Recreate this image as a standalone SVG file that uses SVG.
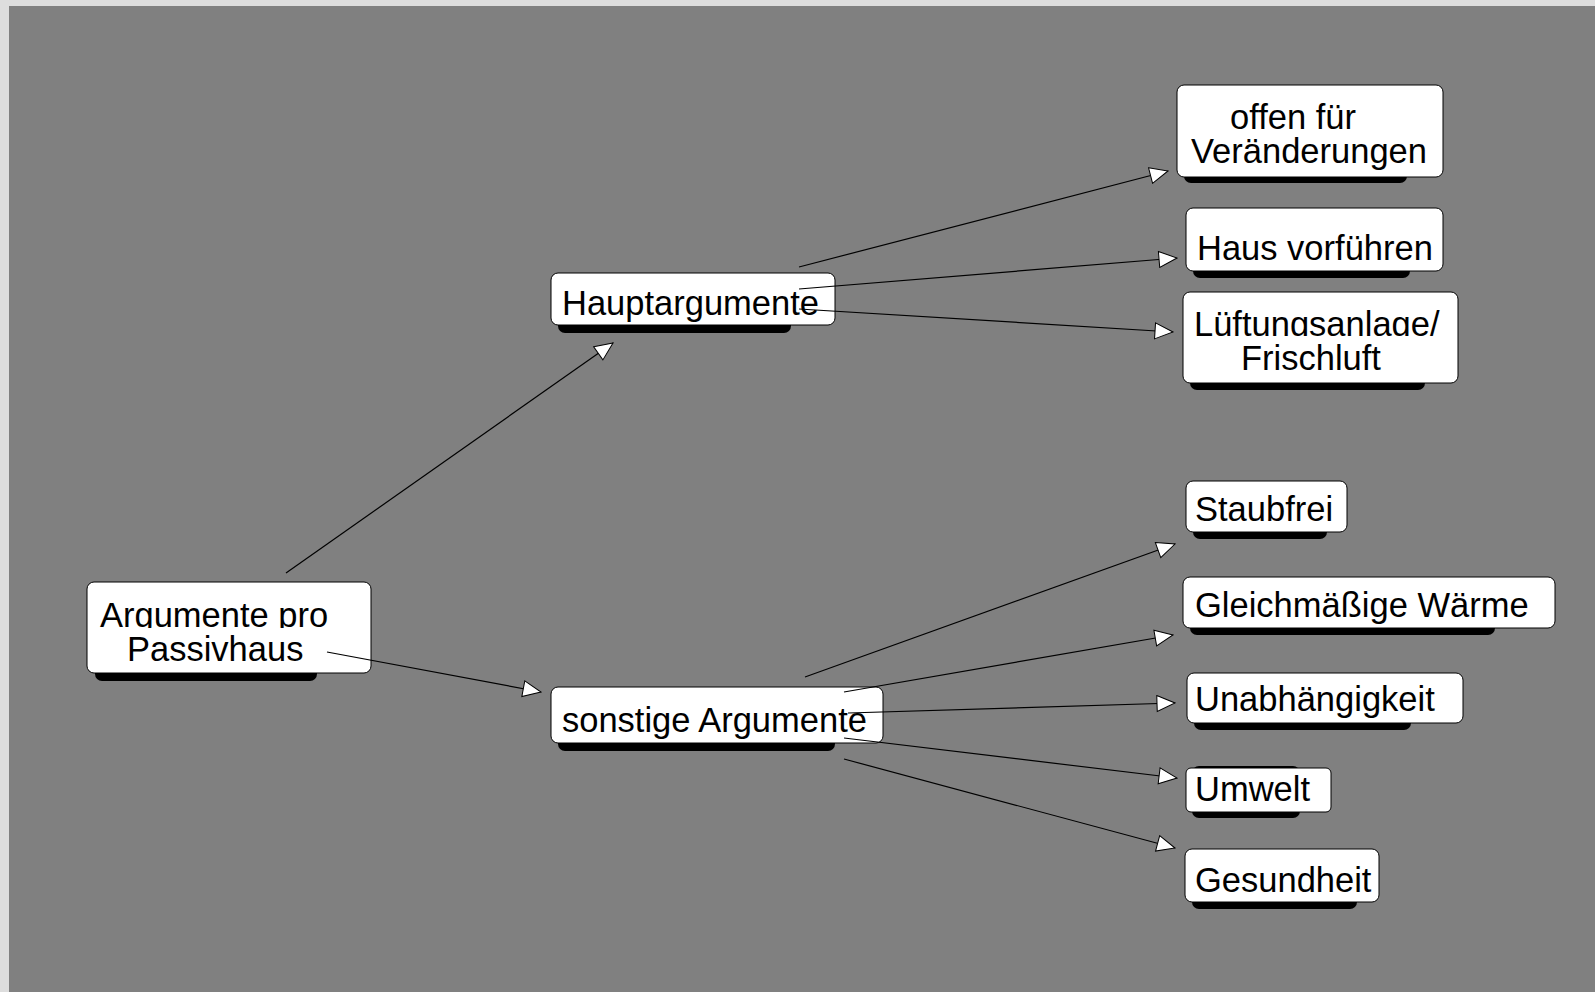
<svg xmlns="http://www.w3.org/2000/svg" width="1595" height="992" viewBox="0 0 1595 992">
<style>
.box{fill:#ffffff;stroke:#000000;stroke-width:1}
.sh{fill:#000000}
.t{font-family:"Liberation Sans",Arial,sans-serif;font-size:34.5px;fill:#000000}
.c{stroke:#000000;stroke-width:1.2;fill:none;marker-end:url(#ah)}
</style>
<defs>
<marker id="ah" markerUnits="userSpaceOnUse" markerWidth="20" markerHeight="18" refX="18" refY="8" orient="auto" viewBox="-1 -1 20 18">
<path d="M0,0 L18,8 L0,16 Z" fill="#ffffff" stroke="#000000" stroke-width="1"/>
</marker>
<clipPath id="clipA"><rect x="87" y="582" width="284" height="46"/></clipPath>
<clipPath id="clipL"><rect x="1183" y="292" width="275" height="44"/></clipPath>
</defs>
<rect x="0" y="0" width="1595" height="992" fill="#dddddd"/>
<rect x="9" y="6" width="1586" height="986" fill="#808080"/>

<g id="n-root">
<rect class="sh" x="95" y="590" width="222" height="91" rx="7"/>
<rect class="box" x="87" y="582" width="284" height="91" rx="7"/>
<text class="t" x="100" y="627" clip-path="url(#clipA)">Argumente pro</text>
<text class="t" x="127" y="661">Passivhaus</text>
</g>
<g id="n-haupt">
<rect class="sh" x="558" y="281" width="233" height="52" rx="7"/>
<rect class="box" x="551" y="273" width="284" height="52" rx="7"/>
<text class="t" x="562" y="315">Hauptargumente</text>
</g>
<g id="n-sonst">
<rect class="sh" x="558" y="695" width="277" height="56" rx="7"/>
<rect class="box" x="551" y="687" width="332" height="56" rx="7"/>
<text class="t" x="562" y="732">sonstige Argumente</text>
</g>
<g id="n-offen">
<rect class="sh" x="1184" y="91" width="223" height="92" rx="7"/>
<rect class="box" x="1177" y="85" width="266" height="92" rx="7"/>
<text class="t" x="1230" y="129">offen für</text>
<text class="t" x="1191" y="163">Veränderungen</text>
</g>
<g id="n-haus">
<rect class="sh" x="1193" y="215" width="217" height="63" rx="7"/>
<rect class="box" x="1186" y="208" width="257" height="63" rx="7"/>
<text class="t" x="1197" y="260">Haus vorführen</text>
</g>
<g id="n-lueft">
<rect class="sh" x="1190" y="299" width="235" height="91" rx="7"/>
<rect class="box" x="1183" y="292" width="275" height="91" rx="7"/>
<text class="t" x="1194" y="336" clip-path="url(#clipL)">Lüftungsanlage/</text>
<text class="t" x="1241" y="370">Frischluft</text>
</g>
<g id="n-staub">
<rect class="sh" x="1193" y="488" width="134" height="51" rx="7"/>
<rect class="box" x="1186" y="481" width="161" height="51" rx="7"/>
<text class="t" x="1195" y="521">Staubfrei</text>
</g>
<g id="n-waerme">
<rect class="sh" x="1190" y="584" width="305" height="51" rx="7"/>
<rect class="box" x="1183" y="577" width="372" height="51" rx="7"/>
<text class="t" x="1195" y="617">Gleichmäßige Wärme</text>
</g>
<g id="n-unab">
<rect class="sh" x="1194" y="680" width="217" height="50" rx="7"/>
<rect class="box" x="1187" y="673" width="276" height="50" rx="7"/>
<text class="t" x="1195" y="711">Unabhängigkeit</text>
</g>
<g id="n-umwelt">
<rect class="sh" x="1192" y="766" width="108" height="52" rx="7"/>
<rect class="box" x="1186" y="768" width="145" height="44" rx="5"/>
<text class="t" x="1195" y="801">Umwelt</text>
</g>
<g id="n-gesund">
<rect class="sh" x="1192" y="856" width="165" height="53" rx="7"/>
<rect class="box" x="1185" y="849" width="194" height="53" rx="7"/>
<text class="t" x="1195" y="892">Gesundheit</text>
</g>

<g id="connectors">
<line class="c" x1="286" y1="573" x2="613" y2="343"/>
<line class="c" x1="327" y1="652" x2="541" y2="692"/>
<line class="c" x1="799" y1="267" x2="1168" y2="171"/>
<line class="c" x1="799" y1="289" x2="1177" y2="258"/>
<line class="c" x1="799" y1="309" x2="1173" y2="332"/>
<line class="c" x1="805" y1="677" x2="1175" y2="544"/>
<line class="c" x1="844" y1="692" x2="1173" y2="635"/>
<line class="c" x1="848" y1="713" x2="1175" y2="703"/>
<line class="c" x1="844" y1="738" x2="1177" y2="778"/>
<line class="c" x1="844" y1="759" x2="1175" y2="848"/>
</g>
</svg>
